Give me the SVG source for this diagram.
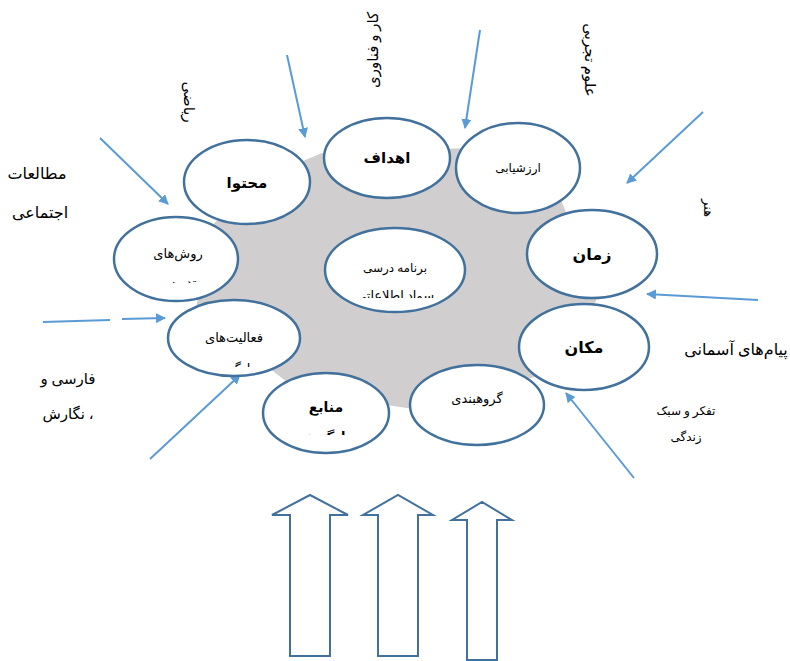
<svg xmlns="http://www.w3.org/2000/svg" width="790" height="661" viewBox="0 0 790 661">
<style>
.n{fill:#fff;stroke:#41719C;stroke-width:2.5}
.t{font-family:"Liberation Serif","DejaVu Sans",serif;fill:#000;text-anchor:middle}
.c{stroke:#5B9BD5;stroke-width:2;fill:none}
.b{fill:#fff;stroke:#41719C;stroke-width:2}
</style>
<defs>
<marker id="ah" viewBox="0 0 10 10" refX="9" refY="5" markerWidth="5" markerHeight="5" orient="auto" markerUnits="strokeWidth">
<path d="M0,0 L10,5 L0,10 z" fill="#5B9BD5"/>
</marker>
<clipPath id="c1"><rect x="110" y="210" width="140" height="73"/></clipPath>
<clipPath id="c2"><rect x="160" y="300" width="150" height="67"/></clipPath>
<clipPath id="c3"><rect x="260" y="370" width="140" height="65"/></clipPath>
<clipPath id="c4"><rect x="320" y="225" width="150" height="73"/></clipPath>
</defs>
<rect width="790" height="661" fill="#fff"/>
<polygon id="bg" points="322,153 470,148 560,198 600,292 565,368 420,410 300,392 196,312 205,232 262,178" fill="#D0CECE"/>
<g id="connectors">
<line class="c" x1="287" y1="55" x2="305" y2="137" marker-end="url(#ah)"/>
<line class="c" x1="480" y1="30" x2="465" y2="128" marker-end="url(#ah)"/>
<line class="c" x1="703" y1="112" x2="627" y2="183" marker-end="url(#ah)"/>
<line class="c" x1="100" y1="138" x2="168" y2="204" marker-end="url(#ah)"/>
<line class="c" x1="758" y1="300" x2="647" y2="294" marker-end="url(#ah)"/>
<line class="c" x1="43" y1="322" x2="110" y2="320"/>
<line class="c" x1="122" y1="319" x2="165" y2="318" marker-end="url(#ah)"/>
<line class="c" x1="150" y1="459" x2="240" y2="375" marker-end="url(#ah)"/>
<line class="c" x1="634" y1="478" x2="566" y2="393" marker-end="url(#ah)"/>
</g>
<g id="ahdaf"><ellipse class="n" cx="387" cy="158" rx="63" ry="40"/><text class="t" x="387" y="163" font-size="15" font-weight="bold">اهداف</text></g>
<g id="arzeshyabi"><ellipse class="n" cx="518" cy="168" rx="62" ry="45"/><text class="t" x="518" y="172" font-size="12">ارزشیابی</text></g>
<g id="mohtava"><ellipse class="n" cx="247" cy="182" rx="63" ry="42"/><text class="t" x="247" y="188" font-size="15" font-weight="bold">محتوا</text></g>
<g id="zaman"><ellipse class="n" cx="592" cy="254" rx="65" ry="44"/><text class="t" x="592" y="260" font-size="16" font-weight="bold">زمان</text></g>
<g id="raveshha"><ellipse class="n" cx="176" cy="259" rx="62" ry="42"/><g clip-path="url(#c1)"><text class="t" x="178" y="258" font-size="13">روش‌های</text><text class="t" x="178" y="287" font-size="13">تدریس</text></g></g>
<g id="barname"><ellipse class="n" cx="395" cy="270" rx="70" ry="42"/><g clip-path="url(#c4)"><text class="t" x="395" y="272" font-size="12">برنامه درسی</text><text class="t" x="395" y="300" font-size="13">سواد اطلاعاتی</text></g></g>
<g id="faaliyatha"><ellipse class="n" cx="234" cy="338" rx="66" ry="38"/><g clip-path="url(#c2)"><text class="t" x="234" y="342" font-size="13">فعالیت‌های</text><text class="t" x="234" y="373" font-size="13">یادگیری</text></g></g>
<g id="makan"><ellipse class="n" cx="584" cy="347" rx="65" ry="43"/><text class="t" x="584" y="353" font-size="16" font-weight="bold">مکان</text></g>
<g id="manabe"><ellipse class="n" cx="326" cy="413" rx="63" ry="40"/><g clip-path="url(#c3)"><text class="t" x="326" y="412" font-size="14" font-weight="bold">منابع</text><text class="t" x="326" y="441" font-size="13" font-weight="bold">یادگیری</text></g></g>
<g id="gorouhbandi"><ellipse class="n" cx="477" cy="405" rx="67" ry="40"/><text class="t" x="477" y="403" font-size="13">گروهبندی</text></g>
<g id="labels">
<text class="t" x="37" y="179" font-size="16">مطالعات</text>
<text class="t" x="40" y="218" font-size="16">اجتماعی</text>
<text class="t" x="68" y="384" font-size="15">فارسی و</text>
<text class="t" x="68" y="419" font-size="15">نگارش ،</text>
<text class="t" x="736" y="355" font-size="16">پیام‌های آسمانی</text>
<text class="t" x="686" y="415" font-size="12">تفکر و سبک</text>
<text class="t" x="686" y="441" font-size="12">زندگی</text>
<text class="t" font-size="15" transform="translate(378,50) rotate(-90)">کار و فناوری</text>
<text class="t" font-size="15" transform="translate(585,60) rotate(90)">علوم تجربی</text>
<text class="t" font-size="15" transform="translate(184,102) rotate(90)">ریاضی</text>
<text class="t" font-size="13" transform="translate(704,208) rotate(90)">هنر</text>
</g>
<g id="bigarrows">
<polygon class="b" points="290,656 290,515 272,515 310,495 348,515 330,515 330,656"/>
<polygon class="b" points="378,656 378,515 363,515 398,495 433,515 418,515 418,656"/>
<polygon class="b" points="467,660 467,520 452,520 482,502 512,520 497,520 497,660"/>
</g>
</svg>
